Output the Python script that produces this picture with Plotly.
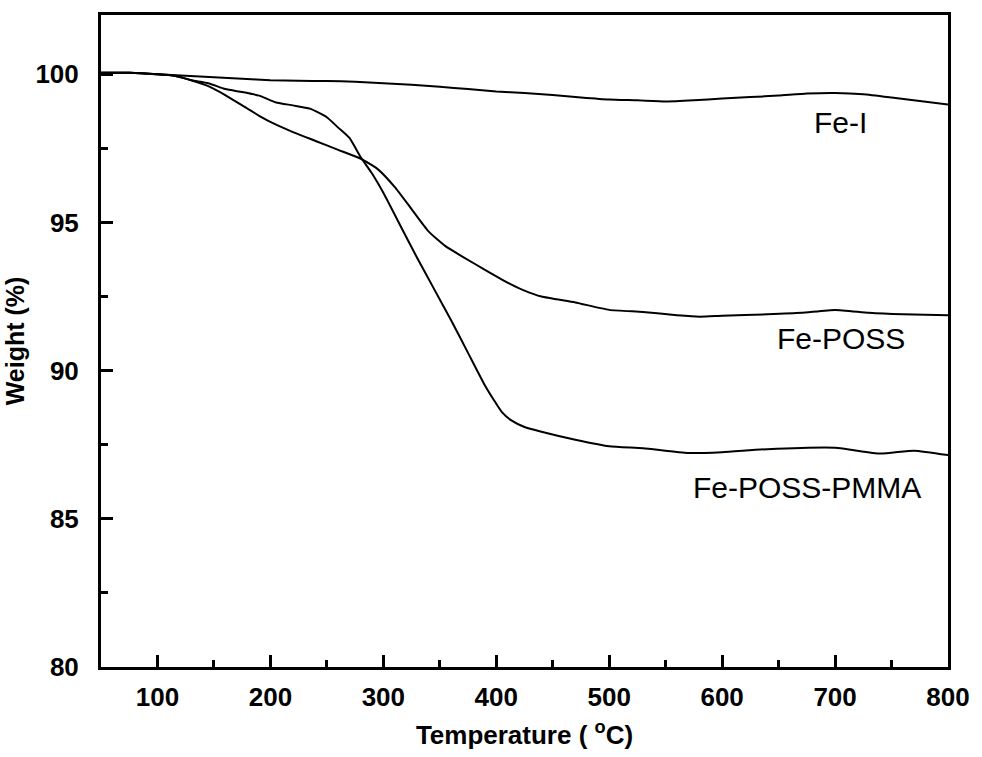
import plotly.graph_objects as go

# ---- data ----
fei_T = [50, 75, 100, 125, 150, 175, 200, 225, 250, 275, 300, 325, 350, 375, 400,
         425, 450, 475, 500, 525, 550, 575, 600, 625, 650, 675, 700, 725, 750, 775, 800]
fei_W = [100.05, 100.05, 100.0, 99.95, 99.9, 99.85, 99.8, 99.78, 99.77, 99.75, 99.7,
         99.65, 99.58, 99.5, 99.42, 99.37, 99.3, 99.22, 99.15, 99.12, 99.08, 99.12,
         99.18, 99.23, 99.28, 99.35, 99.37, 99.33, 99.22, 99.1, 98.98]

poss_T = [50, 75, 100, 115, 130, 145, 160, 175, 190, 205, 220, 240, 260, 280, 295,
          310, 325, 340, 355, 370, 390, 410, 425, 440, 470, 500, 530, 560, 580, 600,
          640, 670, 700, 730, 760, 800]
poss_W = [100.05, 100.05, 100.0, 99.95, 99.8, 99.6, 99.3, 98.95, 98.6, 98.3, 98.05,
          97.75, 97.45, 97.15, 96.8, 96.2, 95.45, 94.7, 94.2, 93.85, 93.4, 92.97,
          92.7, 92.5, 92.3, 92.05, 91.98, 91.87, 91.82, 91.85, 91.9, 91.95, 92.05,
          91.95, 91.9, 91.87]

pmma_T = [50, 75, 100, 115, 130, 145, 160, 175, 190, 205, 220, 235, 250, 260, 270,
          280, 290, 300, 315, 330, 345, 360, 375, 390, 398, 405, 413, 425, 440, 470,
          500, 530, 570, 600, 640, 700, 740, 770, 800]
pmma_W = [100.05, 100.05, 100.0, 99.95, 99.8, 99.7, 99.5, 99.4, 99.28, 99.05, 98.95,
          98.84, 98.55, 98.2, 97.85, 97.2, 96.65, 96.0, 94.9, 93.8, 92.75, 91.7, 90.6,
          89.5, 89.0, 88.6, 88.33, 88.1, 87.94, 87.67, 87.45, 87.38, 87.22, 87.25,
          87.35, 87.4, 87.2, 87.3, 87.15]

labels = ["Fe-I", "Fe-POSS", "Fe-POSS-PMMA"]
label_T = [705, 705, 675]
label_W = [98.38, 91.09, 86.06]

x_ticks = [100, 200, 300, 400, 500, 600, 700, 800]
y_ticks = [80, 85, 90, 95, 100]

FONT = "Liberation Sans, Arial"

fig = go.Figure()
for T, W, name in [(fei_T, fei_W, labels[0]), (poss_T, poss_W, labels[1]), (pmma_T, pmma_W, labels[2])]:
    fig.add_trace(go.Scatter(x=T, y=W, mode="lines", name=name,
                             line=dict(color="black", width=2, shape="spline", smoothing=0.5),
                             showlegend=False))

for t, w, s in zip(label_T, label_W, labels):
    fig.add_annotation(x=t, y=w, text=s, showarrow=False,
                       font=dict(family=FONT, size=30, color="black"))

axis_common = dict(showgrid=False, zeroline=False, showline=True, linecolor="black",
                   linewidth=3, mirror=True, ticks="inside", tickcolor="black",
                   tickwidth=3, ticklen=12, ticklabeloverflow="allow",
                   tickfont=dict(family=FONT, size=26, color="black", weight="bold"))

fig.update_xaxes(range=[50, 800], tickvals=x_ticks, ticktext=[str(v) for v in x_ticks],
                 minor=dict(ticks="inside", dtick=50, tick0=50, ticklen=7, tickwidth=3,
                            tickcolor="black", showgrid=False),
                 title=dict(text="Temperature ( <sup>o</sup>C)", standoff=15,
                            font=dict(family=FONT, size=26, color="black", weight="bold")),
                 ticklabelstandoff=5,
                 **axis_common)
fig.update_yaxes(range=[80, 102], tickvals=y_ticks, ticktext=[str(v) for v in y_ticks],
                 minor=dict(ticks="inside", dtick=2.5, tick0=80, ticklen=7, tickwidth=3,
                            tickcolor="black", showgrid=False),
                 title=dict(text="Weight (%)", standoff=4,
                            font=dict(family=FONT, size=25, color="black", weight="bold")),
                 ticklabelstandoff=14,
                 **axis_common)

fig.update_layout(width=982, height=757, plot_bgcolor="white", paper_bgcolor="white",
                  margin=dict(l=101, r=24, t=15, b=82))

fig.write_html("out.html")
